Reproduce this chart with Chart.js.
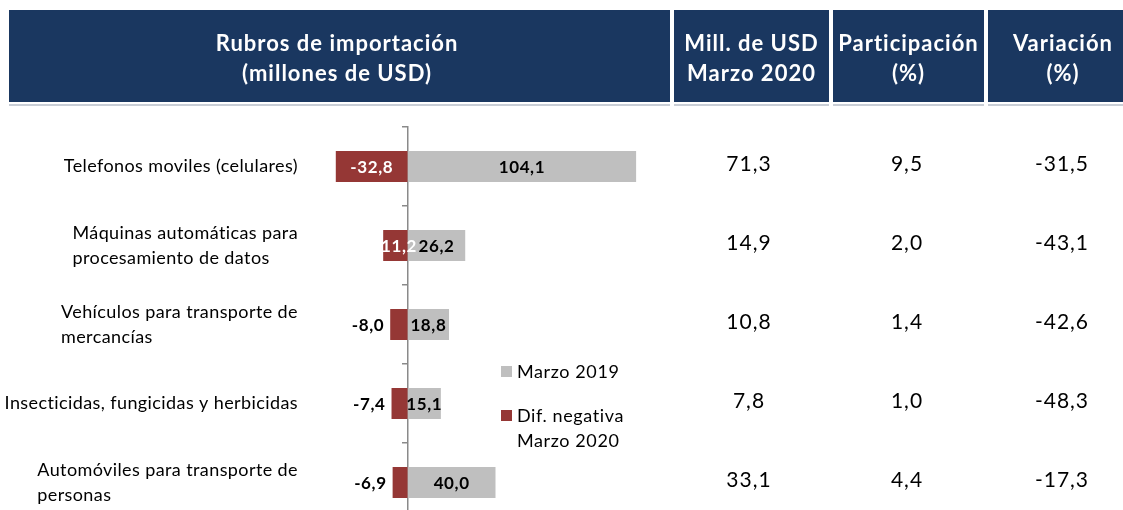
<!DOCTYPE html>
<html>
<head>
<meta charset="utf-8">
<script src="https://cdn.jsdelivr.net/npm/chart.js@4.4.0/dist/chart.umd.min.js"></script>
<style>
  html, body { margin: 0; padding: 0; background: #fff; overflow: hidden; }
  #wrap { width: 1123px; height: 530px; }
</style>
</head>
<body>
<div id="wrap"><canvas id="myChart" width="1123" height="530"></canvas></div>
<script>
// data
const categories = [
  ['Telefonos moviles (celulares)'],
  ['Máquinas automáticas para', 'procesamiento de datos'],
  ['Vehículos para transporte de', 'mercancías'],
  ['Insecticidas, fungicidas y herbicidas'],
  ['Automóviles para transporte de', 'personas']
];
const marzo2019 = [104.1, 26.2, 18.8, 15.1, 40.0];
const difNegativa = [-32.8, -11.2, -8.0, -7.4, -6.9];
const millUsd2020 = [71.3, 14.9, 10.8, 7.8, 33.1];
const participacion = [9.5, 2.0, 1.4, 1.0, 4.4];
const variacion = [-31.5, -43.1, -42.6, -48.3, -17.3];
const headerTitles = [
  ['Rubros de importación', '(millones de USD)'],
  ['Mill. de USD', 'Marzo 2020'],
  ['Participación', '(%)'],
  ['Variación', '(%)']
];
const seriesNames = ['Marzo 2019', ['Dif. negativa', 'Marzo 2020']];

const FONT = 'Lato, "Open Sans", sans-serif';
const NAVY = '#1a3760';
const GRAY = '#bfbfbf';
const RED = '#953735';
const fmt = v => v.toFixed(1).replace('.', ',');

// header boxes [x, width] and column centres
const headerBoxes = [[9, 661], [674, 155], [833, 151], [988, 150]];
const colCenters = [749, 907, 1062];

const tablePlugin = {
  id: 'table',
  beforeDraw(chart) {
    const ctx = chart.ctx;
    ctx.save();
    ctx.fillStyle = '#fff';
    ctx.fillRect(0, 0, chart.width, chart.height);
    headerBoxes.forEach((b, i) => {
      ctx.fillStyle = NAVY;
      ctx.fillRect(b[0], 10, b[1], 92);
      ctx.fillStyle = '#c9ced6';
      ctx.fillRect(b[0], 104, b[1], 2);
      ctx.fillStyle = '#fff';
      ctx.font = 'bold 22px ' + FONT;
      ctx.letterSpacing = '1px';
      ctx.textAlign = 'center';
      ctx.textBaseline = 'middle';
      const cx = i == 0 ? 337 : b[0] + b[1] / 2;
      headerTitles[i].forEach((t, j) => ctx.fillText(t, cx, 44 + j * 30));
    });
    ctx.restore();
  },
  afterDraw(chart) {
    const ctx = chart.ctx;
    const y = chart.scales.y;
    ctx.save();
    ctx.textBaseline = 'middle';
    ctx.fillStyle = '#000';

    // category labels: longest line ends at 298, other lines left aligned with it
    ctx.font = '18px ' + FONT;
    ctx.letterSpacing = '0.4px';
    categories.forEach((lines, i) => {
      const cy = y.getPixelForValue(i);
      const w = Math.max(...lines.map(l => ctx.measureText(l).width));
      ctx.textAlign = 'left';
      lines.forEach((l, j) => {
        ctx.fillText(l, 298 - w, cy + (j - (lines.length - 1) / 2) * 25);
      });
    });

    // table columns
    ctx.font = '21px ' + FONT;
    ctx.letterSpacing = '1px';
    ctx.textAlign = 'center';
    [millUsd2020, participacion, variacion].forEach((col, c) => {
      col.forEach((v, i) => ctx.fillText(fmt(v), colCenters[c], y.getPixelForValue(i) - 2));
    });

    // legend
    ctx.font = '18px ' + FONT;
    ctx.letterSpacing = '0.6px';
    ctx.textAlign = 'left';
    const items = [[GRAY, seriesNames[0]], [RED, seriesNames[1]]];
    let ly = 372;
    items.forEach(([col, name]) => {
      const lines = Array.isArray(name) ? name : [name];
      ctx.fillStyle = col;
      ctx.fillRect(501, ly - 6, 11, 11);
      ctx.fillStyle = '#000';
      lines.forEach((l, j) => ctx.fillText(l, 517, ly + j * 25));
      ly += 44;
    });
    ctx.restore();
  }
};

const barLabels = {
  id: 'barLabels',
  afterDatasetsDraw(chart) {
    const ctx = chart.ctx;
    ctx.save();
    ctx.font = 'bold 17px ' + FONT;
    ctx.letterSpacing = '0.6px';
    ctx.textBaseline = 'middle';
    chart.data.datasets.forEach((ds, di) => {
      chart.getDatasetMeta(di).data.forEach((bar, i) => {
        const v = ds.data[i];
        const mid = (bar.x + bar.base) / 2;
        if (v > 0) {
          ctx.fillStyle = '#000';
          ctx.textAlign = 'center';
          ctx.fillText(fmt(v), mid, bar.y + 1);
        } else if (Math.abs(bar.base - bar.x) > 20) {
          ctx.fillStyle = '#fff';
          ctx.textAlign = 'center';
          ctx.fillText(fmt(v), mid, bar.y + 1);
        } else {
          ctx.fillStyle = '#000';
          ctx.textAlign = 'right';
          ctx.fillText(fmt(v), bar.x - 6, bar.y + 1);
        }
      });
    });
    ctx.restore();
  }
};

var ctx = document.getElementById('myChart').getContext('2d');
var myChart = new Chart(ctx, {
  type: 'bar',
  data: {
    labels: categories,
    datasets: [{
      label: 'Marzo 2019',
      data: marzo2019,
      backgroundColor: GRAY,
      barPercentage: 0.392,
      categoryPercentage: 1
    }, {
      label: 'Dif. negativa Marzo 2020',
      data: difNegativa,
      backgroundColor: RED,
      barPercentage: 0.392,
      categoryPercentage: 1
    }]
  },
  options: {
    indexAxis: 'y',
    responsive: false,
    animation: false,
    devicePixelRatio: 1,
    layout: { padding: { left: 320, right: 452, top: 127, bottom: 8 } },
    scales: {
      x: { stacked: true, display: false, min: -40, max: 120 },
      y: {
        stacked: true,
        position: { x: 0 },
        ticks: { display: false },
        grid: { display: true, drawOnChartArea: false, drawTicks: true, tickLength: 5, color: '#8a8a8a', lineWidth: 1.5 },
        border: { display: true, color: '#8a8a8a', width: 1.5 }
      }
    },
    plugins: { legend: { display: false }, tooltip: { enabled: false } }
  },
  plugins: [tablePlugin, barLabels]
});
</script>
</body>
</html>
